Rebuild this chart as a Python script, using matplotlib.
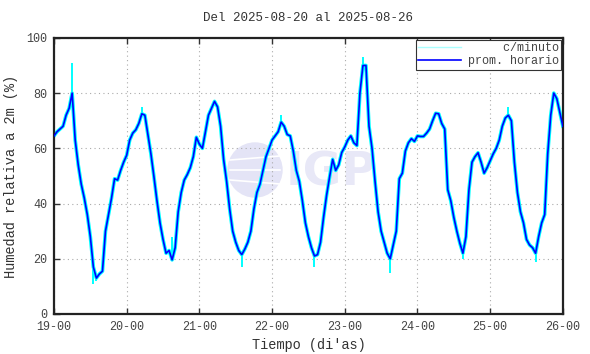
import matplotlib
matplotlib.use('Agg')
import matplotlib.pyplot as plt
from matplotlib.patches import Circle
from matplotlib.lines import Line2D
import numpy as np

# humedad relativa, promedio horario (una lectura por hora desde 19-00)
dia19 = [64.5, 66, 67, 68, 72, 74.5, 80, 63, 54, 47, 42, 36,
         28, 17, 13, 14.5, 15.5, 30, 36, 42, 49, 48.5, 52, 55]
dia20 = [57.5, 63, 65.5, 66.7, 69, 72.5, 72, 65, 58, 49.7, 41, 33,
         27, 22, 23, 19.6, 24, 37, 44, 48.5, 50.5, 53, 57, 64]
dia21 = [61.5, 60, 66, 72, 74.5, 77, 75, 68, 56, 48, 38, 30,
         26, 23, 21.5, 23.5, 26, 30, 38, 44, 47, 52, 57, 60]
dia22 = [63, 64.5, 66, 69.5, 68, 65, 64.5, 59, 52, 48, 41, 33,
         28, 24, 21, 21.5, 26, 35, 43, 49.7, 56, 52, 54, 58.5]
dia23 = [60.5, 63, 64.5, 62, 61, 80, 90, 90, 68, 60, 48, 37,
         30, 26, 22, 20, 25, 30, 49, 51, 59, 62, 63.5, 62.5]
dia24 = [64.5, 64.3, 64.3, 65.5, 67, 70, 72.7, 72.5, 69, 67, 45, 41,
         35, 30, 25.6, 22, 28, 45, 55, 57, 58.4, 55, 51, 53]
dia25 = [55.5, 58, 60, 63, 68, 71, 72, 70, 55, 44, 37, 33,
         27, 25, 24, 22, 28, 33, 36, 58, 72, 80, 78, 73, 68]

# picos del registro por minuto (hora, valor)
picos_h = [6, 13, 14, 29, 39, 62, 75, 86, 102, 111, 135, 150, 159]
picos_v = [91, 11, 12, 75, 28, 17, 72, 17, 93, 15, 20, 75, 19]

etiquetas = ['19-00', '20-00', '21-00', '22-00', '23-00', '24-00', '25-00', '26-00']

horario = np.array(dia19 + dia20 + dia21 + dia22 + dia23 + dia24 + dia25)
horas = np.arange(len(horario))

plt.rcParams['font.family'] = ['Liberation Mono', 'DejaVu Sans Mono']
plt.rcParams['font.size'] = 8.5

fig = plt.figure(figsize=(5.9, 3.54), dpi=100)
ax = fig.add_axes([0.0915, 0.113, 0.8625, 0.78])

# marca de agua IGP
fig.add_artist(Circle((2.55, 1.84), 0.27, transform=fig.dpi_scale_trans,
                      color='#e4e4f6', zorder=0))
for dy in (-0.1, 0.0, 0.1):
    fig.add_artist(Line2D([2.3, 2.8], [1.84 + dy, 1.84 + dy * 1.4],
                          transform=fig.dpi_scale_trans, color='white', lw=1.2, zorder=0))
ax.text(0.455, 0.51, 'IGP', transform=ax.transAxes, fontsize=34, fontweight='bold',
        family='DejaVu Sans', color='#e8e8f7', va='center', ha='left', zorder=0)
ax.patch.set_alpha(0)

# registro por minuto: banda cian + picos
ax.plot(horas, horario, color='#00ffff', lw=2.6, zorder=2)
base = horario[np.array(picos_h)]
ax.vlines(picos_h, base, picos_v, color='#00ffff', lw=1.4, zorder=2)
ax.plot(horas, horario, color='#0000ff', lw=1.2, zorder=3)

ax.set_xlim(0, 168)
ax.set_ylim(0, 100)
ax.set_xticks(np.arange(0, 169, 24))
ax.set_xticklabels(etiquetas)
ax.set_yticks(np.arange(0, 101, 20))
ax.tick_params(direction='in', length=4, width=1, top=True, right=False,
               colors='#333333', labelcolor='#444444', pad=5)
ax.grid(True, color='#aaaaaa', linestyle=(0, (1, 3)), lw=0.8)
for s in ax.spines.values():
    s.set_linewidth(1.6)
    s.set_color('#222222')

ax.set_title('Del 2025-08-20 al 2025-08-26', fontsize=9, color='#333333', pad=12)
ax.set_xlabel('Tiempo (di\'as)', fontsize=9.8, color='#333333', labelpad=4)
ax.set_ylabel('Humedad relativa a 2m (%)', fontsize=9.8, color='#333333', labelpad=6)

handles = [Line2D([], [], color='#aaffff', lw=1), Line2D([], [], color='#0000ff', lw=1.2)]
leg = ax.legend(handles, ['     c/minuto', 'prom. horario'], loc='upper right',
                handlelength=3.6, fancybox=False, framealpha=1,
                edgecolor='#333333', borderpad=0.2, labelspacing=0.1, borderaxespad=0.15,
                handletextpad=0.6, fontsize=8.5)
leg.get_frame().set_linewidth(0.8)
for t in leg.get_texts():
    t.set_color('#444444')

fig.savefig('out.png', dpi=100)
